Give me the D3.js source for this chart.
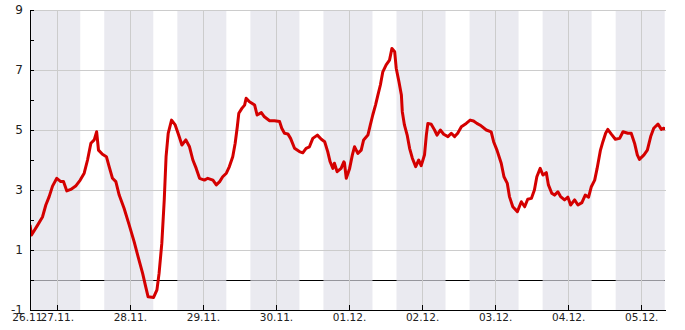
<!DOCTYPE html>
<html lang="de">
<head>
<meta charset="utf-8">
<title>Temperatur</title>
<script src="https://cdn.jsdelivr.net/npm/d3@7"></script>
<style>
  body { margin: 0; background: #fff; }
  text { font-family: "DejaVu Sans", sans-serif; font-size: 10.5px; fill: #222; }
  .axis path, .axis line { stroke: #000; shape-rendering: crispEdges; }
  .grid line { stroke: #cccccc; shape-rendering: crispEdges; }
  .night { fill: rgb(224, 224, 233); fill-opacity: 0.67; }
  .temp { fill: none; stroke: #d40000; stroke-width: 3; stroke-linejoin: round; }
</style>
</head>
<body>
<svg width="685" height="330"></svg>
<script>
// hours counted from 26.11. 00:00
const hours = [15.2, 15.7, 17.7, 19.3, 20.4, 21.5, 22.6, 24.0, 25.3, 26.2, 27.3, 28.6, 30.2, 31.7, 33.0, 34.1, 35.2, 36.3, 37.1, 37.7, 39.0, 40.3, 41.2, 42.3, 43.4, 44.5, 46.1, 47.8, 49.4, 50.7, 52.2, 53.2, 54.0, 55.8, 56.9, 57.6, 58.5, 59.3, 59.9, 60.6, 61.7, 62.9, 64.2, 65.1, 66.4,
  67.6, 68.7, 69.8, 70.9, 72.5, 73.6, 75.3, 76.4, 77.5, 78.5, 79.7, 80.7, 81.8, 82.6, 83.3, 83.8, 84.8, 85.7, 86.2, 87.3, 89.0, 89.8, 91.2, 92.2, 93.9, 95.5, 97.2, 97.9, 98.8, 99.9, 100.8, 102.1, 103.7, 104.8, 105.9, 107.0, 108.1, 109.6, 110.9, 112.0, 113.0, 113.8, 114.7, 115.2, 116.1, 117.4, 118.3, 118.5, 119.1,
  120.2, 121.1, 121.8, 122.9, 124.0, 124.8, 126.2, 127.0, 127.8, 128.7, 129.5, 130.3, 131.1, 132.2, 133.3, 134.1, 135.0, 135.5, 136.4, 137.2, 137.5, 138.2, 139.1, 139.9, 140.8, 141.9, 142.9, 143.7, 144.8, 145.4, 145.9, 147.0, 148.1, 148.9, 150.0, 151.1, 152.5, 153.6, 154.7, 155.7, 156.9, 158.5, 159.8, 160.9, 162.0, 163.4, 165.1, 166.7, 167.5, 168.6,
  170.0, 170.9, 172.0, 172.7, 173.8, 175.3, 176.6, 177.7, 178.7, 179.9, 180.9, 181.7, 182.8, 183.7, 184.8, 185.5, 186.6, 187.5, 188.6, 189.5, 190.8, 191.9, 192.8, 194.1, 195.2, 196.5, 197.6, 198.7, 199.6, 200.7, 201.5, 202.6, 203.4, 204.3, 205.0, 206.1, 207.5, 208.9, 210.0, 211.6, 212.7, 213.8, 214.7, 215.4, 216.9, 218.0, 219.1, 220.1, 221.5, 222.6, 223.4, 223.8];
const temps = [1.83, 1.5, 1.83, 2.1, 2.5, 2.78, 3.13, 3.39, 3.28, 3.28, 2.97, 3.02, 3.13, 3.33, 3.56, 4.0, 4.56, 4.67, 4.94, 4.33, 4.19, 4.11, 3.78, 3.39, 3.28, 2.83, 2.39, 1.83, 1.28, 0.78, 0.22, -0.22, -0.56, -0.58, -0.33, 0.22, 1.22, 2.67, 4.11, 4.89, 5.33, 5.17, 4.78, 4.5, 4.67,
  4.44, 4.0, 3.72, 3.39, 3.33, 3.39, 3.33, 3.17, 3.28, 3.44, 3.56, 3.78, 4.11, 4.56, 5.11, 5.56, 5.72, 5.83, 6.06, 5.94, 5.83, 5.5, 5.58, 5.44, 5.31, 5.31, 5.28, 5.06, 4.89, 4.87, 4.72, 4.39, 4.28, 4.24, 4.39, 4.44, 4.72, 4.83, 4.69, 4.61, 4.28, 3.94, 3.72, 3.89, 3.61, 3.72, 3.94, 3.9, 3.39,
  3.72, 4.17, 4.44, 4.22, 4.33, 4.67, 4.83, 5.17, 5.5, 5.83, 6.17, 6.5, 6.94, 7.17, 7.33, 7.72, 7.61, 7.06, 6.61, 6.17, 5.61, 5.17, 4.83, 4.39, 4.06, 3.78, 4.0, 3.81, 4.17, 4.83, 5.22, 5.19, 5.0, 4.83, 5.0, 4.86, 4.78, 4.89, 4.78, 4.89, 5.11, 5.22, 5.33, 5.3, 5.22, 5.14, 5.0, 4.94, 4.61, 4.33,
  3.89, 3.44, 3.22, 2.78, 2.44, 2.28, 2.61, 2.44, 2.69, 2.72, 3.0, 3.44, 3.72, 3.5, 3.58, 3.17, 2.89, 2.83, 2.94, 2.78, 2.67, 2.76, 2.5, 2.67, 2.5, 2.58, 2.83, 2.76, 3.11, 3.33, 3.72, 4.33, 4.61, 4.89, 5.02, 4.87, 4.69, 4.72, 4.94, 4.89, 4.89, 4.56, 4.17, 4.02, 4.17, 4.33, 4.78, 5.06, 5.2, 5.02, 5.06, 5.0];
const yTicks = [-1, 0, 1, 2, 3, 4, 5, 6, 7, 8, 9];
const yLabels = [-1, 1, 3, 5, 7, 9];

// daylight (white) roughly from 07:40 to 15:35
const sunrise = 7.7, sunset = 15.6;

const base = new Date(2023, 10, 26);
const toDate = h => new Date(base.getTime() + h * 3600e3);
const data = hours.map((h, i) => ({t: toDate(h), v: temps[i]}));

const svg = d3.select("svg");
const x0 = 30, x1 = 665, yTop = 10, yBot = 310;

const x = d3.scaleTime()
  .domain([toDate(15.2), toDate(223.8)])
  .range([x0, x1]);
const y = d3.scaleLinear()
  .domain([-1, 9])
  .range([yBot, yTop]);

const days = d3.timeDay.range(d3.timeDay.ceil(x.domain()[0]), x.domain()[1]);

// zero line (under the night bands)
svg.append("line")
  .attr("x1", x0).attr("x2", x1)
  .attr("y1", Math.round(y(0)) + 0.5).attr("y2", Math.round(y(0)) + 0.5)
  .attr("stroke", "#000")
  .attr("shape-rendering", "crispEdges");

// night bands
const nights = [];
for (let d = 0; d < 10; d++) {
  const a = Math.max(d * 24 + sunset, 15.2), b = Math.min((d + 1) * 24 + sunrise, 223.8);
  if (b > a) nights.push([toDate(a), toDate(b)]);
}
svg.append("g")
  .selectAll("rect")
  .data(nights)
  .enter()
  .append("rect")
    .attr("class", "night")
    .attr("x", d => x(d[0]))
    .attr("width", d => x(d[1]) - x(d[0]))
    .attr("y", yTop)
    .attr("height", yBot - yTop);

// grid
const grid = svg.append("g").attr("class", "grid");
grid.selectAll("line.h")
  .data(yLabels.filter(v => v > -1))
  .enter()
  .append("line")
    .attr("x1", x0).attr("x2", x1 + 1)
    .attr("y1", d => Math.round(y(d)) + 0.5)
    .attr("y2", d => Math.round(y(d)) + 0.5);
grid.selectAll("line.v")
  .data(days)
  .enter()
  .append("line")
    .attr("x1", d => Math.round(x(d)) + 0.5)
    .attr("x2", d => Math.round(x(d)) + 0.5)
    .attr("y1", yTop).attr("y2", yBot);

// temperature line
svg.append("clipPath").attr("id", "clip")
  .append("rect").attr("x", x0).attr("y", 0).attr("width", x1 - x0).attr("height", yBot + 2);

svg.append("path")
  .datum(data)
  .attr("class", "temp")
  .attr("clip-path", "url(#clip)")
  .attr("d", d3.line().x(d => x(d.t)).y(d => y(d.v)));

// axes
const axeY = d3.axisLeft(y)
  .tickValues(yTicks)
  .tickFormat(v => yLabels.includes(v) ? v : "")
  .tickSizeInner(-4)
  .tickSizeOuter(0)
  .tickPadding(7);
svg.append("g")
  .attr("class", "axis")
  .attr("transform", `translate(${x0},0)`)
  .call(axeY)
  .call(g => g.selectAll("text").style("font-size", "12px"));

const fmt = d3.timeFormat("%d.%m.");
const axeX = d3.axisBottom(x)
  .tickValues(days)
  .tickFormat(fmt)
  .tickSizeInner(-5)
  .tickSizeOuter(0)
  .tickPadding(4);
const gx = svg.append("g")
  .attr("class", "axis")
  .attr("transform", `translate(0,${yBot})`)
  .call(axeX);
gx.call(g => g.select(".domain").attr("d", `M${x0},0.5H${x1 + 1}`));

// start label at left end of the axis
gx.insert("text", ":first-child")
  .attr("x", x0 - 1)
  .attr("y", 4)
  .attr("dy", "0.71em")
  .attr("text-anchor", "middle")
  .text(fmt(x.domain()[0]));
</script>
</body>
</html>
